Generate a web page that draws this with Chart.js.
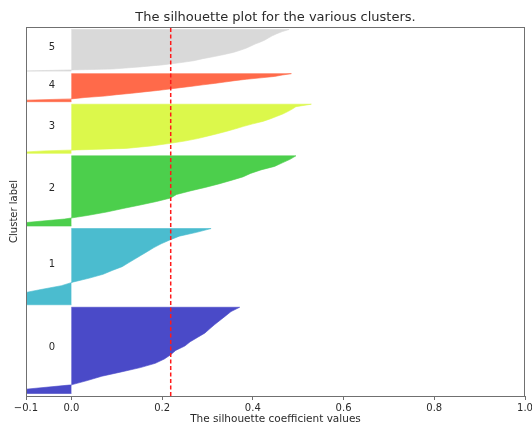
<!DOCTYPE html>
<html>
<head>
<meta charset="utf-8">
<script src="https://cdn.jsdelivr.net/npm/chart.js@4/dist/chart.umd.min.js"></script>
<style>
  html, body { margin: 0; padding: 0; background: #ffffff; }
  #wrap { width: 532px; height: 425px; }
</style>
</head>
<body>
<div id="wrap"><canvas id="c" width="532" height="425"></canvas></div>
<script>
// ---- data ----
const clusterNames = ['0', '1', '2', '3', '4', '5'];
const clusterSizes = [344, 304, 280, 196, 112, 166];
const clusterGap = 10;
// sorted silhouette values per cluster, at evenly spaced ranks (bottom -> top)
const sil0 = [-0.20, -0.10, 0.0, 0.035, 0.067, 0.11, 0.152, 0.185, 0.205, 0.219, 0.230, 0.250, 0.262, 0.278, 0.294, 0.305, 0.316, 0.328, 0.340, 0.352, 0.371];
const sil1 = [-0.22, -0.18, -0.14, -0.11, -0.067, -0.022, 0.005, 0.04, 0.07, 0.09, 0.112, 0.126, 0.14, 0.154, 0.168, 0.182, 0.198, 0.217, 0.238, 0.276, 0.308];
const sil2 = [-0.15, -0.10, -0.015, 0.035, 0.078, 0.114, 0.152, 0.188, 0.219, 0.232, 0.262, 0.295, 0.325, 0.352, 0.378, 0.395, 0.418, 0.448, 0.465, 0.482, 0.495];
const sil3 = [-0.15, -0.06, 0.12, 0.176, 0.215, 0.25, 0.278, 0.30, 0.322, 0.343, 0.362, 0.38, 0.40, 0.422, 0.438, 0.452, 0.466, 0.477, 0.487, 0.495, 0.529];
const sil4 = [-0.15, -0.11, 0.0, 0.03, 0.073, 0.10, 0.133, 0.16, 0.19, 0.216, 0.24, 0.266, 0.29, 0.315, 0.338, 0.36, 0.386, 0.418, 0.448, 0.465, 0.485];
const sil5 = [-0.12, 0.09, 0.15, 0.20, 0.238, 0.27, 0.29, 0.315, 0.337, 0.357, 0.372, 0.385, 0.395, 0.405, 0.417, 0.427, 0.435, 0.443, 0.453, 0.465, 0.48];
const silhouetteAvg = 0.219;
const tickValues = [-0.1, 0.0, 0.2, 0.4, 0.6, 0.8, 1.0];
const tickLabels = ['\u22120.1', '0.0', '0.2', '0.4', '0.6', '0.8', '1.0'];
const clusterColors = ['#4a4ac8', '#4bbccf', '#4ccf4c', '#dcf84b', '#ff6a4a', '#d9d9d9'];
const titleText = 'The silhouette plot for the various clusters.';
const xTitle = 'The silhouette coefficient values';
const yTitle = 'Cluster label';

// ---- build datasets ----
const silValues = [sil0, sil1, sil2, sil3, sil4, sil5];
const yMax = clusterSizes.reduce((a, b) => a + b, 0) + (clusterSizes.length + 1) * clusterGap;
const clusterMid = [];
const datasets = [];
let yLower = clusterGap;
silValues.forEach((vals, i) => {
  const size = clusterSizes[i];
  const pts = [{x: 0, y: yLower}];
  vals.forEach((v, k) => {
    pts.push({x: v, y: yLower + size * k / (vals.length - 1)});
  });
  pts.push({x: 0, y: yLower + size});
  datasets.push({
    label: clusterNames[i],
    data: pts,
    backgroundColor: clusterColors[i],
    borderColor: clusterColors[i],
    borderWidth: 0.6,
    pointRadius: 0,
    tension: 0,
    fill: 'shape',
    order: 2
  });
  clusterMid.push(yLower + size / 2);
  yLower += size + clusterGap;
});
datasets.push({
  label: 'avg',
  data: [{x: silhouetteAvg, y: 0}, {x: silhouetteAvg, y: yMax}],
  borderColor: '#ff1a1a',
  borderWidth: 1.5,
  borderDash: [4, 2.5],
  pointRadius: 0,
  fill: false,
  order: 0
});

const FONT = "'DejaVu Sans', sans-serif";

const decor = {
  id: 'decor',
  afterDatasetsDraw(chart) {
    const {ctx, chartArea: a, scales: {x, y}} = chart;
    ctx.save();
    ctx.strokeStyle = '#707070';
    ctx.lineWidth = 1;
    ctx.strokeRect(a.left + 0.5, a.top + 0.5, a.right - a.left - 1, a.bottom - a.top);
    // cluster labels
    ctx.fillStyle = '#2a2a2a';
    ctx.font = '10px ' + FONT;
    ctx.textAlign = 'left';
    ctx.textBaseline = 'alphabetic';
    clusterNames.forEach((n, i) => {
      ctx.fillText(n, x.getPixelForValue(-0.05), y.getPixelForValue(clusterMid[i]));
    });
    ctx.restore();
  },
  afterDraw(chart) {
    const {ctx, chartArea: a} = chart;
    const cx = (a.left + a.right) / 2;
    ctx.save();
    ctx.fillStyle = '#2a2a2a';
    ctx.textAlign = 'center';
    ctx.textBaseline = 'middle';
    ctx.font = '13px ' + FONT;
    ctx.fillText(titleText, cx, 18);
    ctx.font = '10.5px ' + FONT;
    ctx.fillText(xTitle, cx, 419);
    ctx.font = '10px ' + FONT;
    ctx.translate(14, (a.top + a.bottom) / 2);
    ctx.rotate(-Math.PI / 2);
    ctx.fillText(yTitle, 0, 0);
    ctx.restore();
  }
};

new Chart(document.getElementById('c'), {
  type: 'line',
  data: {datasets},
  options: {
    responsive: false,
    animation: false,
    events: [],
    layout: {padding: {left: 26, right: 7, top: 27, bottom: 0}},
    plugins: {legend: {display: false}, tooltip: {enabled: false}, title: {display: false}},
    scales: {
      x: {
        type: 'linear',
        min: -0.1,
        max: 1.0,
        afterBuildTicks: (s) => { s.ticks = tickValues.map(v => ({value: v})); },
        afterFit: (s) => { s.height = 29; s.paddingLeft = 0; s.paddingRight = 0; },
        ticks: {
          autoSkip: false,
          maxRotation: 0,
          padding: 2,
          color: '#2a2a2a',
          font: {family: FONT, size: 10},
          callback: (v) => {
            const i = tickValues.findIndex(t => Math.abs(t - v) < 1e-9);
            return i >= 0 ? tickLabels[i] : '';
          }
        },
        grid: {display: true, drawOnChartArea: false, drawTicks: true, tickLength: 4, color: '#707070'},
        border: {display: true, color: '#707070'}
      },
      y: {
        type: 'linear',
        min: 0,
        max: yMax,
        display: false
      }
    }
  },
  plugins: [decor]
});
</script>
</body>
</html>
